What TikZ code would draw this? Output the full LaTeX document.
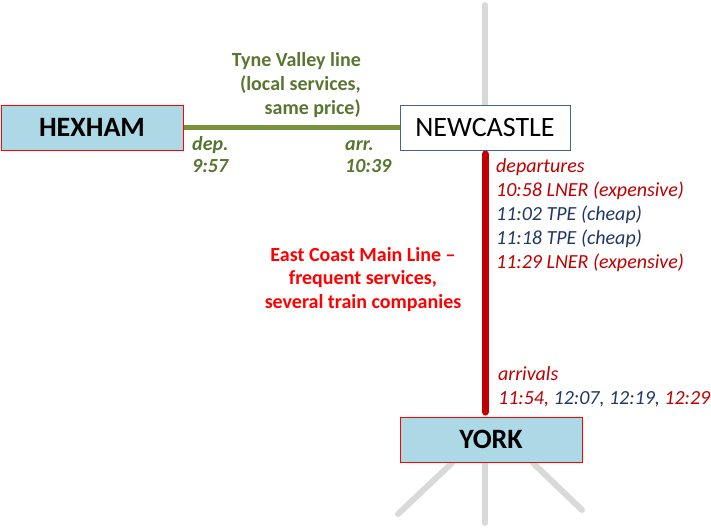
\documentclass[tikz,border=0pt]{standalone}
\usepackage{fontspec}
\setmainfont{Carlito}
\definecolor{boxblue}{RGB}{173,216,230}
\definecolor{boxred}{RGB}{255,0,0}
\definecolor{ncborder}{RGB}{65,100,145}
\definecolor{tyneline}{RGB}{119,147,60}
\definecolor{tynetext}{RGB}{88,118,48}
\definecolor{ecred}{RGB}{192,0,0}
\definecolor{tpeblue}{RGB}{31,56,100}
\definecolor{railgray}{RGB}{217,217,217}
\definecolor{brightred}{RGB}{255,0,0}
\begin{document}
\begin{tikzpicture}[x=1pt,y=-1pt,
  station/.style={draw=boxred, fill=boxblue, line width=1pt, minimum width=182pt, minimum height=45pt, inner sep=0pt, font=\fontsize{28}{30}\selectfont\bfseries},
  ncstation/.style={draw=ncborder, fill=white, line width=1pt, minimum width=170pt, minimum height=45pt, inner sep=0pt, font=\fontsize{28}{30}\selectfont},
  lbl/.style={inner sep=0pt},
  tv/.style={lbl, text=tynetext, font=\fontsize{20}{24}\selectfont\bfseries},
  tvi/.style={lbl, text=tynetext, font=\fontsize{20}{24}\selectfont\bfseries\itshape},
  it/.style={lbl, font=\fontsize{20}{24}\selectfont\itshape},
  ec/.style={lbl, text=brightred, font=\fontsize{20}{24}\selectfont\bfseries},
  grayrail/.style={draw=railgray, line width=6pt, line cap=round},
]
\useasboundingbox (0,0) rectangle (711,528);
% gray rails
\coordinate (gtop) at (485,5);
\coordinate (gbl) at (398,514);
\coordinate (gbc) at (485,523);
\coordinate (gbr) at (582,510);
\coordinate (ytl) at (452,463);
\coordinate (ytc) at (485,463);
\coordinate (ytr) at (533,463);
\coordinate (gmid) at (485,110);
\draw[grayrail] (gtop) -- (gmid);
\draw[grayrail] (ytl) -- (gbl);
\draw[grayrail] (ytc) -- (gbc);
\draw[grayrail] (ytr) -- (gbr);
% stations
\node[station] (hexham) at (92,127.5) {HEXHAM};
\node[ncstation] (newcastle) at (485,127.5) {NEWCASTLE};
% rails
\coordinate (ncbottom) at (485,154);
\coordinate (yorktop) at (485,412);
\draw[draw=tyneline, line width=5pt] (hexham.east) -- (newcastle.west);
\draw[draw=ecred, line width=7pt, line cap=round] (ncbottom) -- (yorktop);
\node[station] (york) at (491,439.5) {YORK};
% Tyne Valley labels
\node[tv, anchor=base east] (tv1) at (361,66.5) {Tyne Valley line};
\node[tv, anchor=base east] (tv2) at (361,90) {(local services,};
\node[tv, anchor=base east] (tv3) at (361,114) {same price)};
\node[tvi, anchor=base west] (dep1) at (192,150) {dep.};
\node[tvi, anchor=base west] (dep2) at (192,172) {9:57};
\node[tvi, anchor=base west] (arr1) at (345,150) {arr.};
\node[tvi, anchor=base west] (arr2) at (345,172) {10:39};
% departures
\node[it, anchor=base west, text=ecred] (d0) at (496,172) {departures};
\node[it, anchor=base west, text=ecred] (d1) at (496,196) {10:58 LNER (expensive)};
\node[it, anchor=base west, text=tpeblue] (d2) at (496,220) {11:02 TPE (cheap)};
\node[it, anchor=base west, text=tpeblue] (d3) at (496,244) {11:18 TPE (cheap)};
\node[it, anchor=base west, text=ecred] (d4) at (496,268) {11:29 LNER (expensive)};
% East Coast label
\node[ec, anchor=base] (ec1) at (363,261) {East Coast Main Line –};
\node[ec, anchor=base] (ec2) at (363,284.5) {frequent services,};
\node[ec, anchor=base] (ec3) at (363,308) {several train companies};
% arrivals
\node[it, anchor=base west, text=ecred] (a0) at (498,380) {arrivals};
\node[it, anchor=base west] (a1) at (498,404) {\textcolor{ecred}{11:54,} \textcolor{tpeblue}{12:07, 12:19,} \textcolor{ecred}{12:29}};
\end{tikzpicture}
\end{document}
